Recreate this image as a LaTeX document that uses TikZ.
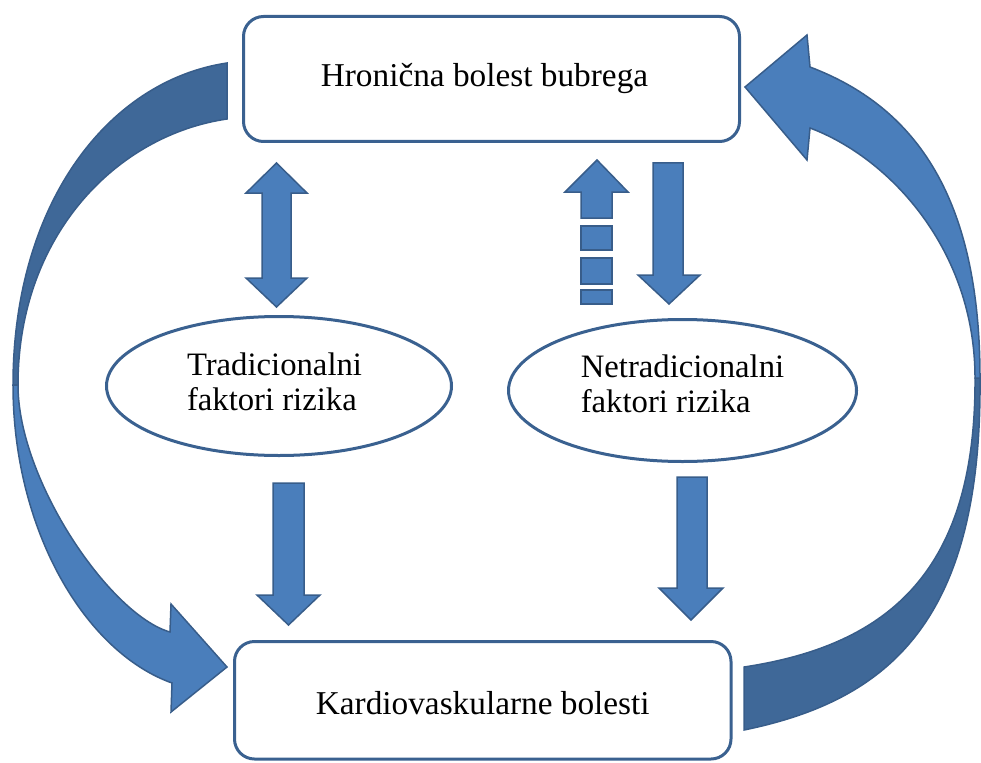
\documentclass[tikz,border=0pt]{standalone}
\usepackage{fontspec}
\setmainfont{Liberation Serif}
\usetikzlibrary{shapes.geometric}
\definecolor{bordc}{HTML}{3A6190}
\definecolor{lightb}{HTML}{4A7EBB}
\definecolor{darkb}{HTML}{3F6898}
\definecolor{edgec}{HTML}{385D8A}
\begin{document}
\begin{tikzpicture}[x=1pt,y=-1pt,
  box/.style={draw=bordc, line width=3pt, rounded corners=20pt, rectangle, inner sep=0pt, font=\fontsize{33.3}{40}\selectfont},
  oval/.style={draw=bordc, line width=3pt, ellipse, inner sep=0pt, font=\fontsize{32.7}{35.5}\selectfont},
  blockarrow/.style={fill=lightb, draw=edgec, line width=1.5pt, line join=miter},
  backface/.style={fill=darkb, draw=edgec, line width=1.5pt, line join=miter},
]
\useasboundingbox (0,0) rectangle (981,762);

% curved arrow on the left: back face, then front face with head
\draw[backface] (227,63) .. controls (107,81) and (13,205) .. (13,385)
  -- (18,385) .. controls (18,235) and (117,135) .. (227,119) -- cycle;
\draw[blockarrow] (13,385) .. controls (13,530) and (85,652) .. (172,683)
  -- (171,712) -- (227,667) -- (171,604) -- (170,632)
  .. controls (110,615) and (18,480) .. (18,385) -- cycle;

% curved arrow on the right: back face, then front face with head
\draw[backface] (980,378) .. controls (982,620) and (890,700) .. (744,730)
  -- (744,667) .. controls (890,645) and (976,570) .. (975,378) -- cycle;
\draw[blockarrow] (745,87) -- (807,35) -- (810,67)
  .. controls (910,105) and (980,190) .. (980,378)
  -- (975,378) .. controls (975,250) and (890,158) .. (810,128)
  -- (807,160) -- cycle;

% nodes
\node[box, minimum width=496pt, minimum height=125pt, text height=24pt, text depth=8pt] (ckd) at (491.5,79) {\hspace*{-14pt}Hronična bolest bubrega};
\node[box, minimum width=496.5pt, minimum height=117.5pt, text height=28pt, text depth=0pt] (cvd) at (482.75,700.25) {Kardiovaskularne bolesti};
\node[oval, minimum width=345pt, minimum height=139pt, text height=23pt, text depth=45pt] (trad) at (279,386) {\hspace*{-9pt}\begin{tabular}[t]{@{}l@{}}Tradicionalni\\faktori rizika\end{tabular}};
\node[oval, minimum width=348pt, minimum height=142pt, text height=23pt, text depth=50pt] (netrad) at (682.5,390.5) {\begin{tabular}[t]{@{}l@{}}Netradicionalni\\faktori rizika\end{tabular}};

% straight block arrows
\draw[blockarrow] (276.5,163) -- (307,193) -- (291,193) -- (291,278) -- (307,278) -- (276.5,307) -- (246,278) -- (262,278) -- (262,193) -- (246,193) -- cycle;
\draw[blockarrow] (597,160) -- (628,192) -- (612,192) -- (612,218) -- (581,218) -- (581,192) -- (565,192) -- cycle;
\draw[blockarrow] (581,226) rectangle (612,250);
\draw[blockarrow] (581,258) rectangle (612,284);
\draw[blockarrow] (581,290) rectangle (612,304);
\draw[blockarrow] (653,163) -- (683,163) -- (683,275) -- (700,275) -- (669,304) -- (638,275) -- (653,275) -- cycle;
\draw[blockarrow] (273,483) -- (304,483) -- (304,595) -- (320,595) -- (288.5,625) -- (257,595) -- (273,595) -- cycle;
\draw[blockarrow] (677,477) -- (707,477) -- (707,588) -- (723,588) -- (691,620) -- (659,588) -- (677,588) -- cycle;
\end{tikzpicture}
\end{document}
